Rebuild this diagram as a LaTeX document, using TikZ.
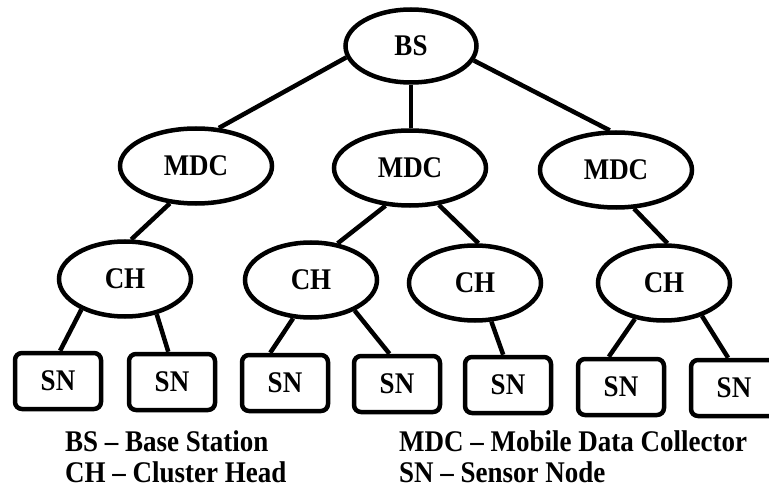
\documentclass[tikz,border=0pt]{standalone}
\usepackage{fontspec}
\setmainfont{Liberation Serif}[FakeStretch=0.9]
\usetikzlibrary{shapes.geometric}
\begin{document}
\begin{tikzpicture}[x=1pt,y=-1pt,
  lbl/.style={font=\fontsize{30}{34}\selectfont\bfseries},
  ell/.style={ellipse, draw, line width=4.5pt, inner sep=0pt, lbl},
  bsnode/.style={ell, minimum width=131pt, minimum height=73pt},
  mdcnode/.style={ell, minimum width=152pt, minimum height=75pt},
  chnode/.style={ell, minimum width=132pt, minimum height=75pt},
  snbox/.style={rectangle, rounded corners=7pt, draw, line width=4.5pt,
    minimum width=86pt, minimum height=56pt, inner sep=0pt, lbl},
  link/.style={line width=4.5pt},
  legend/.style={anchor=base west, lbl, inner sep=0pt}]
\useasboundingbox (0,0) rectangle (769,500);
% nodes
\node[bsnode] (bs) at (411,46) {BS};
\node[mdcnode] (m1) at (196,166) {MDC};
\node[mdcnode] (m2) at (410,168) {MDC};
\node[mdcnode] (m3) at (616,170) {MDC};
\node[chnode] (c1) at (125,279) {CH};
\node[chnode] (c2) at (311,280) {CH};
\node[chnode] (c3) at (475,283) {CH};
\node[chnode] (c4) at (664,283) {CH};
\node[snbox] (s1) at (58,381) {SN};
\node[snbox] (s2) at (172,382) {SN};
\node[snbox] (s3) at (285,383) {SN};
\node[snbox] (s4) at (397,384) {SN};
\node[snbox] (s5) at (508,385) {SN};
\node[snbox] (s6) at (621,387) {SN};
\node[snbox] (s7) at (734,388) {SN};
% connectors
\draw[link] (bs.190.6) -- (m1.59.5);
\draw[link] (bs.south) -- (bs.south |- m2.north);
\draw[link] (bs.347.7) -- (m3.99.9);
\draw[link] (m1.235.9) -- (c1.81.7);
\draw[link] (m2.237) -- (c2.54.9);
\draw[link] (m2.308.1) -- (c3.85.8);
\draw[link] (m3.295.4) -- (c4.85.7);
\draw[link] (c1.215.2) -- (s1.86.3);
\draw[link] (c1.312.5) -- (s2.97.1);
\draw[link] (c2.245.8) -- (s3.116.6);
\draw[link] (c2.325.7) -- (s4.104);
\draw[link] (c3.293.6) -- (s5.99.5);
\draw[link] (c4.231) -- (s6.112);
\draw[link] (c4.319.6) -- (s7.101.3);
% legend
\node[legend] (lbs) at (65,451) {BS – Base Station};
\node[legend] (lch) at (65,482) {CH – Cluster Head};
\node[legend] (lmdc) at (399,451) {MDC – Mobile Data Collector};
\node[legend] (lsn) at (399,482) {SN – Sensor Node};
\end{tikzpicture}
\end{document}
